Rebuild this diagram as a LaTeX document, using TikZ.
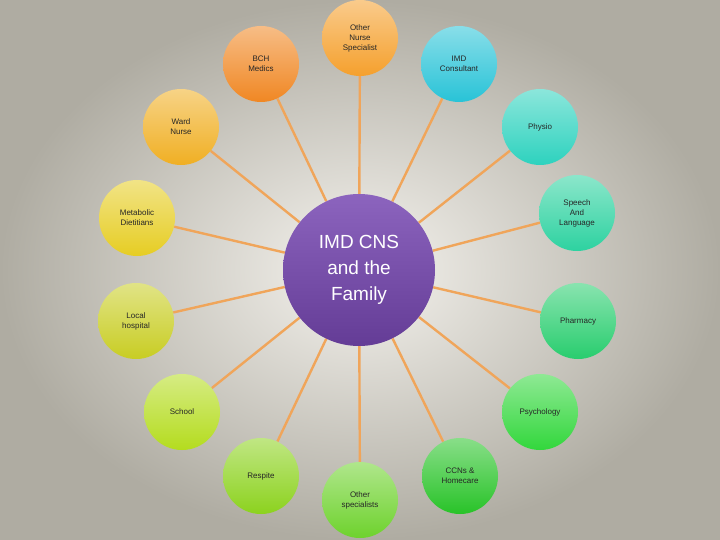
\documentclass[tikz,border=0pt]{standalone}
\usepackage{fontspec}
\setmainfont{Liberation Sans}
\usetikzlibrary{backgrounds}
\begin{document}
\begin{tikzpicture}[x=1pt,y=-1pt,
  sat/.style={circle,minimum size=76pt,inner sep=0pt,align=center,font=\fontsize{8}{10}\selectfont,text=black!85},
  hub/.style={circle,minimum size=152pt,inner sep=0pt,align=center,font=\fontsize{19}{26}\selectfont,text=white},
  link/.style={draw={rgb,255:red,240;green,165;blue,90},line width=2.4pt}]
\begin{scope}[on background layer]
\fill[inner color={rgb,255:red,245;green,243;blue,238},outer color={rgb,255:red,175;green,172;blue,162}] (0,0) rectangle (720,540);
\end{scope}
\useasboundingbox (0,0) rectangle (720,540);
\node[hub,top color={rgb,255:red,140;green,100;blue,190},bottom color={rgb,255:red,100;green,60;blue,150}] (c) at (359,270) {IMD CNS\\and the\\Family};
\def\mk#1#2#3#4#5{\definecolor{cc#1}{RGB}{#4}\node[sat,top color=cc#1!55!white,bottom color=cc#1] (#1) at (#2,#3) {#5};\begin{scope}[on background layer]\path[link] (c) -- (#1);\end{scope}}
\mk{a}{261}{64}{240,135,35}{BCH\\Medics}
\mk{b}{360}{38}{245,160,45}{Other\\Nurse\\Specialist}
\mk{d}{459}{64}{40,195,215}{IMD\\Consultant}
\mk{e}{540}{127}{45,210,190}{Physio}
\mk{f}{577}{213}{45,210,160}{Speech\\And\\Language}
\mk{g}{578}{321}{40,205,110}{Pharmacy}
\mk{h}{540}{412}{50,215,60}{Psychology}
\mk{i}{460}{476}{40,195,40}{CCNs \&\\Homecare}
\mk{j}{360}{500}{110,210,45}{Other\\specialists}
\mk{k}{261}{476}{140,210,30}{Respite}
\mk{l}{182}{412}{180,220,30}{School}
\mk{m}{136}{321}{200,205,35}{Local\\hospital}
\mk{n}{137}{218}{230,205,35}{Metabolic\\Dietitians}
\mk{o}{181}{127}{240,175,35}{Ward\\Nurse}
\end{tikzpicture}
\end{document}
